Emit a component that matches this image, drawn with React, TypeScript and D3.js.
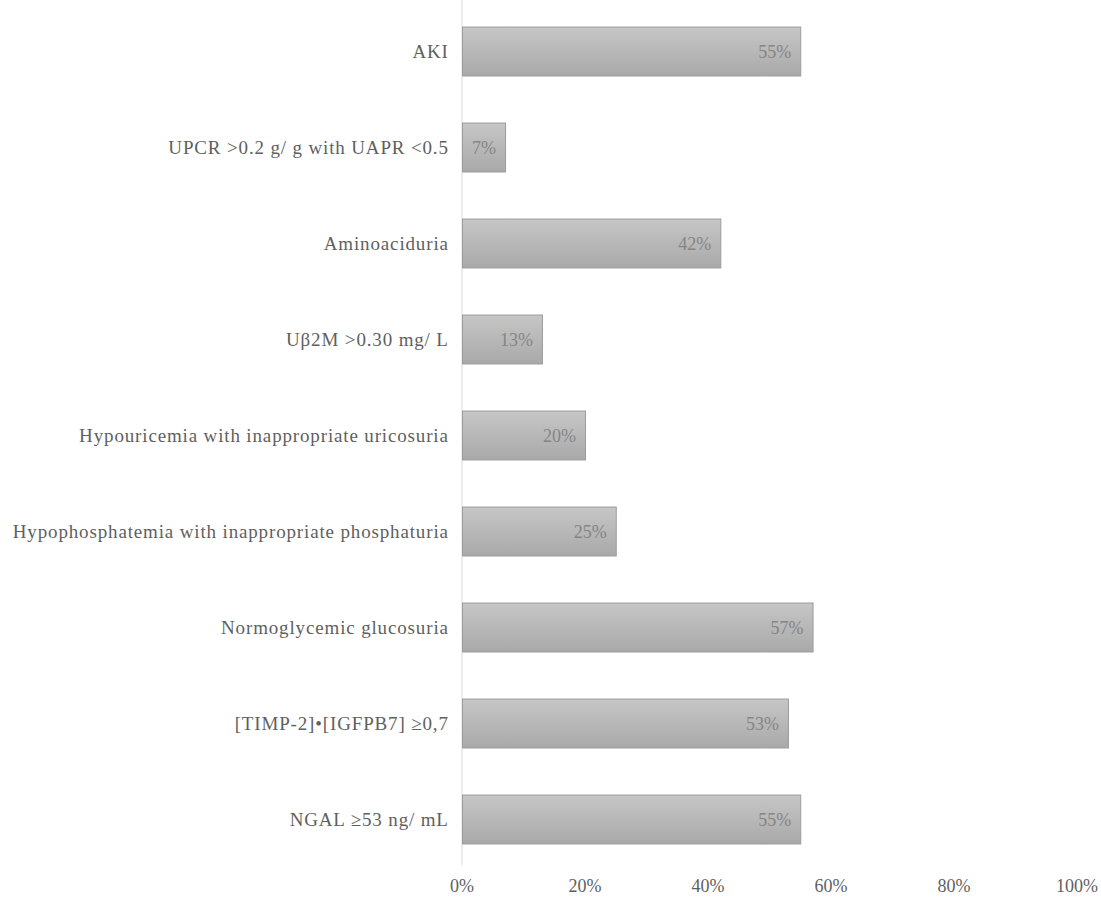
import React from "react";
import * as d3 from "d3";

const categories = [
  "AKI",
  "UPCR >0.2 g/ g with UAPR <0.5",
  "Aminoaciduria",
  "Uβ2M >0.30 mg/ L",
  "Hypouricemia with inappropriate uricosuria",
  "Hypophosphatemia with inappropriate phosphaturia",
  "Normoglycemic glucosuria",
  "[TIMP-2]•[IGFPB7] ≥0,7",
  "NGAL ≥53 ng/ mL",
];
const values = [55, 7, 42, 13, 20, 25, 57, 53, 55];
const xTicks = [0, 20, 40, 60, 80, 100];

const W = 1101;
const H = 900;
const left = 462;
const right = 1077;
const top = 3.5;
const bottom = 867.5;
const FONT = "'Liberation Serif', serif";

export default function App() {
  const x = d3.scaleLinear().domain([0, 100]).range([left, right]);
  const y = d3.scaleBand<string>().domain(categories).range([top, bottom]).paddingInner(0.49).paddingOuter(0.245);
  return (
    <svg width={W} height={H} style={{ position: "absolute", left: 0, top: 0, background: "#fff" }}>
      <defs>
        <linearGradient id="barg" x1="0" y1="0" x2="0" y2="1">
          <stop offset="0%" stopColor="#c6c6c6" />
          <stop offset="100%" stopColor="#a9a9a9" />
        </linearGradient>
      </defs>
      <line x1={x(0)} x2={x(0)} y1={0} y2={bottom - 2} stroke="#d9d9d9" strokeWidth={1} />
      {categories.map((c, i) => {
        const by = y(c)!;
        const bw = y.bandwidth();
        return (
          <g key={c}>
            <rect x={x(0) + 0.5} y={by} width={x(values[i]) - x(0)} height={bw} fill="url(#barg)" stroke="#9c9c9c" strokeWidth={1} />
            <text x={x(values[i]) - 9} y={by + bw / 2} dy="0.35em" textAnchor="end" fontFamily={FONT} fontSize={18} fill="#858585">
              {values[i]}%
            </text>
            <text x={448.8} y={by + bw / 2} dy="0.35em" textAnchor="end" fontFamily={FONT} fontSize={19} letterSpacing={0.85} fill="#5f5f5f">
              {c}
            </text>
          </g>
        );
      })}
      {xTicks.map((t) => (
        <text key={t} x={x(t)} y={886} dy="0.35em" textAnchor="middle" fontFamily={FONT} fontSize={18} fill="#5f5f5f">
          {t}%
        </text>
      ))}
    </svg>
  );
}
